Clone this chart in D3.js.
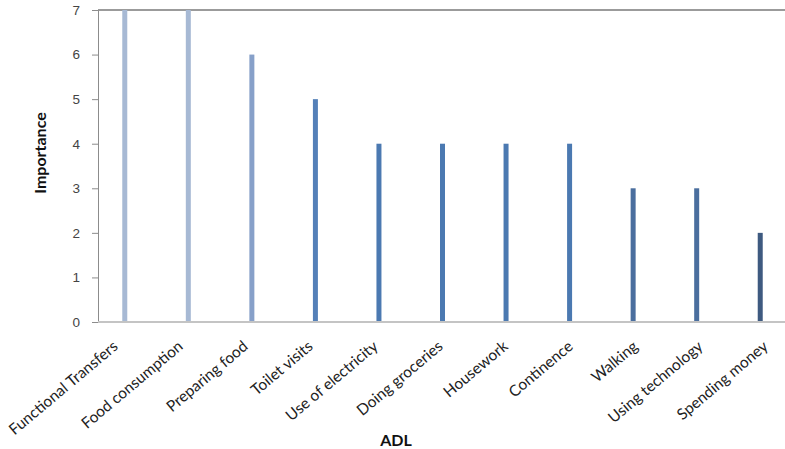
<!DOCTYPE html>
<html>
<head>
<meta charset="utf-8">
<script src="https://cdn.jsdelivr.net/npm/d3@7"></script>
<style>
  body { margin: 0; background: #fff; }
  svg { display: block; }
</style>
</head>
<body>
<script>
// chart data
const activities = [
  "Functional Transfers", "Food consumption", "Preparing food", "Toilet visits",
  "Use of electricity", "Doing groceries", "Housework", "Continence",
  "Walking", "Using technology", "Spending money"
]
const importance = [7, 7, 6, 5, 4, 4, 4, 4, 3, 3, 2]
const yTicks = [0, 1, 2, 3, 4, 5, 6, 7]
const barColors = [
  "#a7b9d4", "#a7b9d4", "#87a0c9", "#5480b8", "#4b79b1", "#4b79b1",
  "#4b79b1", "#4b79b1", "#4a6e9e", "#4a6e9e", "#3e5a80"
]

function drawChart() {
  const dimensions = {
    width: 785,
    height: 449,
    axisX: 98,
    right: 785,
    top: 10,
    baseline: 322,
    barWidth: 5,
  }

  const wrapper = d3.select("body")
    .append("svg")
      .attr("width", dimensions.width)
      .attr("height", dimensions.height)
      .style("font-family", "Lato, 'Liberation Sans', sans-serif")

  // scales
  const xScale = d3.scaleBand()
    .domain(activities)
    .range([93, 792])

  // the labels in the picture sit on a slightly wider spacing than the bars
  const labelScale = d3.scalePoint()
    .domain(activities)
    .range([119, 769])

  const yScale = d3.scaleLinear()
    .domain([0, 7])
    .range([dimensions.baseline, dimensions.top])

  // top border
  wrapper.append("line")
    .attr("x1", dimensions.axisX)
    .attr("x2", dimensions.right)
    .attr("y1", dimensions.top)
    .attr("y2", dimensions.top)
    .attr("stroke", "#7a7a7a")
    .attr("stroke-width", 1.5)

  // y axis
  const yAxisGenerator = d3.axisLeft()
    .scale(yScale)
    .tickValues(yTicks)
    .tickSize(6)
    .tickPadding(12)
    .tickFormat(d3.format("d"))

  const yAxis = wrapper.append("g")
    .attr("transform", `translate(${dimensions.axisX}, 0)`)
    .call(yAxisGenerator)
  yAxis.select(".domain").attr("stroke", "#8c8c8c")
  yAxis.selectAll(".tick line").attr("stroke", "#8c8c8c")
  yAxis.selectAll(".tick text")
    .attr("fill", "#444")
    .style("font-family", "'Liberation Sans', sans-serif")
    .style("font-size", "13.5px")

  // bars
  wrapper.append("g")
    .selectAll("rect")
    .data(activities)
    .join("rect")
      .attr("x", d => xScale(d) + xScale.bandwidth() / 2 - dimensions.barWidth / 2)
      .attr("y", (d, i) => yScale(importance[i]))
      .attr("width", dimensions.barWidth)
      .attr("height", (d, i) => yScale(0) - yScale(importance[i]))
      .attr("fill", (d, i) => barColors[i])

  // baseline
  wrapper.append("line")
    .attr("x1", dimensions.axisX)
    .attr("x2", dimensions.right)
    .attr("y1", yScale(0))
    .attr("y2", yScale(0))
    .attr("stroke", "#c4c4c4")
    .attr("stroke-width", 2)

  // category labels
  wrapper.append("g")
    .selectAll("text")
    .data(activities)
    .join("text")
      .attr("transform", d => `translate(${labelScale(d)}, ${dimensions.baseline + 26}) rotate(-40)`)
      .attr("text-anchor", "end")
      .attr("fill", "#222")
      .style("font-size", "15.5px")
      .text(d => d)

  // axis titles
  wrapper.append("text")
    .attr("transform", `translate(46, 153) rotate(-90)`)
    .attr("text-anchor", "middle")
    .attr("font-weight", "bold")
    .attr("fill", "#111")
    .style("font-size", "16px")
    .text("Importance")

  wrapper.append("text")
    .attr("x", 396)
    .attr("y", 446)
    .attr("text-anchor", "middle")
    .attr("font-weight", "bold")
    .attr("fill", "#111")
    .style("font-size", "16px")
    .text("ADL")
}
drawChart()
</script>
</body>
</html>
